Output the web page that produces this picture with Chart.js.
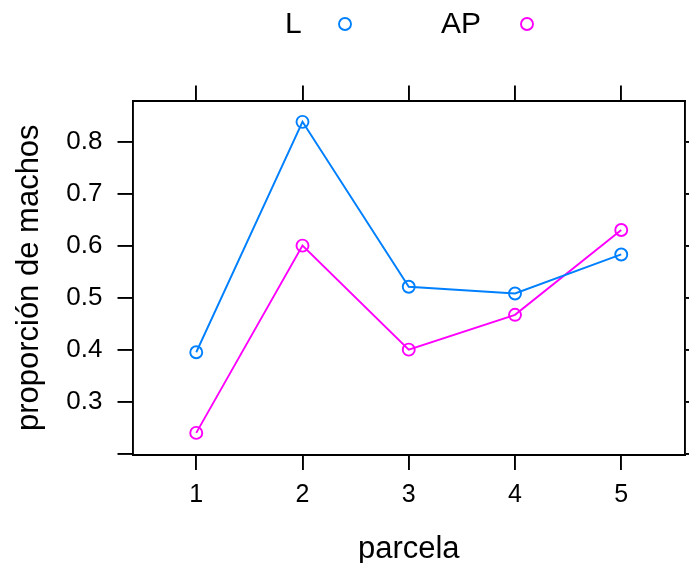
<!DOCTYPE html>
<html lang="es">
<head>
  <meta charset="UTF-8" />
  <title>Proporción de machos por parcela</title>
  <script src="https://cdn.jsdelivr.net/npm/chart.js@4"></script>
  <style>
    html, body { margin: 0; padding: 0; background: #fff; }
    #wrap { width: 689px; height: 563px; }
  </style>
</head>
<body>
  <div id="wrap"><canvas id="chart" width="689" height="563"></canvas></div>

  <script>
    // parcelas y proporciones observadas
    const parcelas = [1, 2, 3, 4, 5];
    const propL = [0.395, 0.838, 0.521, 0.508, 0.583];
    const propAP = [0.240, 0.600, 0.400, 0.467, 0.630];
    const yTicks = [0.2, 0.3, 0.4, 0.5, 0.6, 0.7, 0.8];
    const yLabeled = [0.3, 0.4, 0.5, 0.6, 0.7, 0.8];

    const colL = '#0080ff';
    const colAP = '#ff00ff';
    const FONT = 'Liberation Sans, Arial, sans-serif';
    const LW = 1.9;

    const toPoints = vals => parcelas.map((p, i) => ({ x: p, y: vals[i] }));

    // lattice-like key on top: label then symbol
    const keyPlugin = {
      id: 'topKey',
      afterDraw(chart) {
        const ctx = chart.ctx;
        const items = [
          { ds: chart.data.datasets[0], tx: 285, cx: 345 },
          { ds: chart.data.datasets[1], tx: 441, cx: 527 }
        ];
        ctx.save();
        ctx.font = '30px ' + FONT;
        ctx.textBaseline = 'middle';
        ctx.textAlign = 'left';
        items.forEach(it => {
          ctx.fillStyle = '#000';
          ctx.fillText(it.ds.label, it.tx, 25);
          ctx.beginPath();
          ctx.arc(it.cx, 24, 6, 0, Math.PI * 2);
          ctx.lineWidth = LW;
          ctx.strokeStyle = it.ds.borderColor;
          ctx.stroke();
        });
        ctx.restore();
      }
    };

    const axisLine = { display: true, color: '#000', width: LW };
    const outTicks = { drawOnChartArea: false, drawTicks: true, tickLength: 15, color: '#000', lineWidth: LW };

    // fixed box sizes so the panel sits where it should
    const fixH = h => s => { s.height = h; s.paddingLeft = 0; s.paddingRight = 0; };
    const fixW = w => s => { s.width = w; s.paddingTop = 0; s.paddingBottom = 0; };

    const series = (label, vals, col) => ({
      label: label,
      data: toPoints(vals),
      borderColor: col,
      backgroundColor: 'transparent',
      borderWidth: LW,
      pointRadius: 6,
      pointBorderWidth: LW,
      pointBackgroundColor: 'transparent',
      pointBorderColor: col,
      tension: 0
    });

    new Chart(document.getElementById('chart'), {
      type: 'line',
      data: {
        datasets: [series('L', propL, colL), series('AP', propAP, colAP)]
      },
      options: {
        responsive: false,
        animation: false,
        // no extra room for point overflow, the boxes below set the panel
        layout: { padding: 0, autoPadding: false },
        plugins: {
          legend: { display: false },
          tooltip: { enabled: false }
        },
        scales: {
          x: {
            type: 'linear',
            position: 'bottom',
            min: 0.4,
            max: 5.6,
            afterBuildTicks: s => { s.ticks = parcelas.map(v => ({ value: v })); },
            ticks: { color: '#000', font: { family: FONT, size: 25 }, padding: 10 },
            grid: outTicks,
            border: axisLine,
            title: {
              display: true,
              text: 'parcela',
              color: '#000',
              font: { family: FONT, size: 31 },
              padding: { top: 0, bottom: -5 }
            },
            afterFit: fixH(108)
          },
          xTop: {
            type: 'linear',
            position: 'top',
            min: 0.4,
            max: 5.6,
            afterBuildTicks: s => { s.ticks = parcelas.map(v => ({ value: v })); },
            ticks: { display: false },
            grid: outTicks,
            border: axisLine,
            afterFit: fixH(100.5)
          },
          y: {
            type: 'linear',
            position: 'left',
            min: 0.1975,
            max: 0.879,
            afterBuildTicks: s => { s.ticks = yTicks.map(v => ({ value: v })); },
            ticks: {
              color: '#000',
              font: { family: FONT, size: 26 },
              padding: 15,
              callback: v => yLabeled.some(t => Math.abs(t - v) < 1e-6) ? v.toFixed(1) : ''
            },
            grid: outTicks,
            border: axisLine,
            title: {
              display: true,
              text: 'proporción de machos',
              color: '#000',
              font: { family: FONT, size: 31 },
              padding: { top: 11, bottom: 0 }
            },
            afterFit: fixW(132.5)
          },
          yRight: {
            type: 'linear',
            position: 'right',
            min: 0.1975,
            max: 0.879,
            afterBuildTicks: s => { s.ticks = yTicks.map(v => ({ value: v })); },
            ticks: { display: false },
            grid: outTicks,
            border: axisLine,
            afterFit: fixW(4)
          }
        }
      },
      plugins: [keyPlugin]
    });
  </script>
</body>
</html>
